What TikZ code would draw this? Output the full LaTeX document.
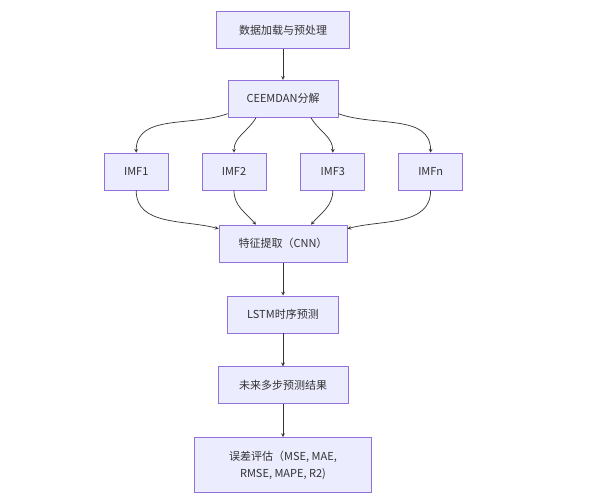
\documentclass[tikz,border=0pt]{standalone}
\usepackage{fontspec}
\setmainfont{Noto Sans CJK SC}
\usepackage{tikz}
\usetikzlibrary{positioning,arrows,calc}
\definecolor{boxfill}{HTML}{ECECFF}
\definecolor{boxline}{HTML}{9370DB}
\definecolor{linkgray}{HTML}{333333}
\tikzset{
  stage/.style={draw=boxline, fill=boxfill, line width=0.8pt, rectangle, minimum height=37pt, font=\fontsize{11}{17}\selectfont, text=linkgray},
  flow/.style={->, >=stealth, draw=linkgray, line width=0.7pt}
}

\begin{document}
\begin{tikzpicture}[node distance=31pt]
            \useasboundingbox[fill=white] (0,0) rectangle (595pt,-500pt);
            \node[stage, minimum width = 133pt] (load) at (283pt,-30pt) {数据加载与预处理};
            \node[stage, minimum width = 110pt, below=of load] (ceemdan) {CEEMDAN分解};
            \draw[flow] (load.south)--(ceemdan.north);

            \node[stage, minimum width = 64pt, below=of ceemdan, yshift=-4pt, xshift=-49pt] (imf2) {IMF2};
            \node[stage, minimum width = 64pt, left=of imf2, xshift=-2pt] (imf1) {IMF1};
            \node[stage, minimum width = 64pt, right=of imf2, xshift=3pt] (imf3) {IMF3};
            \node[stage, minimum width = 64pt, right=of imf3, xshift=2pt] (imfn) {IMFn};
            \draw[flow] ([yshift=4pt]ceemdan.south west) to[out=200, in=90] (imf1.north);
            \draw[flow] ([xshift=-27pt]ceemdan.south) to[out=240, in=90] (imf2.north);
            \draw[flow] ([xshift=28pt]ceemdan.south) to[out=300, in=90] (imf3.north);
            \draw[flow] ([yshift=4pt]ceemdan.south east) to[out=-20, in=90] (imfn.north);

            \node[stage, minimum width = 128pt, below=of ceemdan, yshift=-76pt] (feature) {特征提取（CNN）};
            \draw[flow] (imf1.south) to[out=-90, in=165] ([yshift=-4pt]feature.north west);
            \draw[flow] (imf2.south) to[out=-90, in=130] ([xshift=-27pt]feature.north);
            \draw[flow] (imf3.south) to[out=-90, in=50] ([xshift=28pt]feature.north);
            \draw[flow] (imfn.south) to[out=-90, in=15] ([yshift=-4pt]feature.north east);

            \node[stage, minimum width = 111pt, below=of feature, yshift=-2pt] (lstm) {LSTM时序预测};
            \draw[flow] (feature.south)--(lstm.north);
            \node[stage, minimum width = 130pt, below=of lstm, yshift=-2pt] (future) {未来多步预测结果};
            \draw[flow] (lstm.south)--(future.north);
            \node[stage, minimum width = 177pt, minimum height = 55pt, align=center, below=of future, yshift=-2pt] (eval) {误差评估（MSE, MAE,\\RMSE, MAPE, R2)};
            \draw[flow] (future.south)--(eval.north);
        \end{tikzpicture}
\end{document}
